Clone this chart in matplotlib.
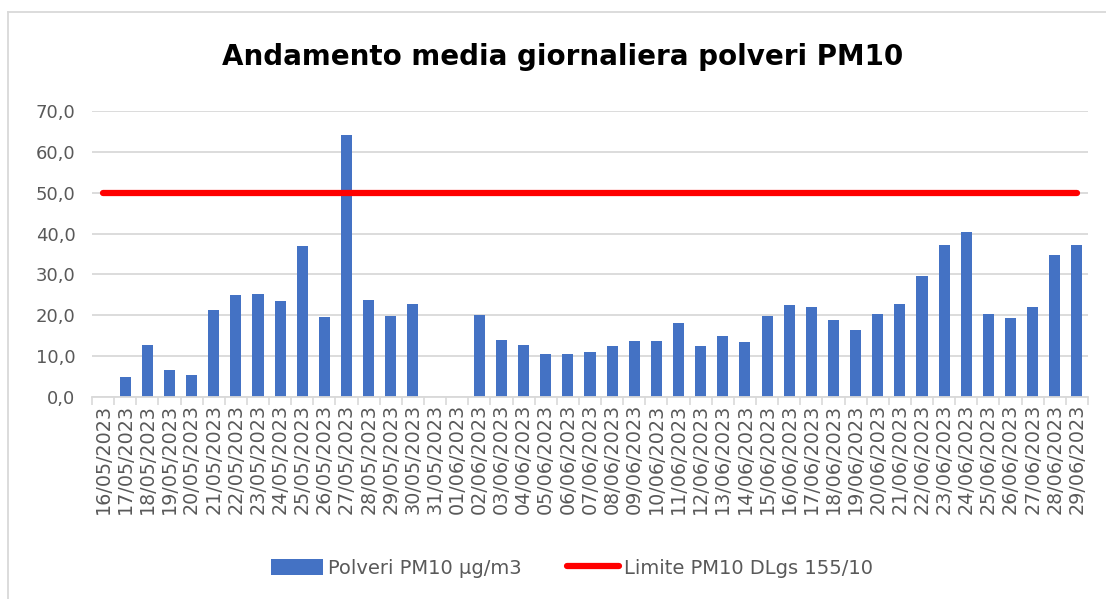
import numpy as np
import matplotlib
matplotlib.use("Agg")
import matplotlib.pyplot as plt
from matplotlib.lines import Line2D
from matplotlib.patches import Patch

dates = ["16/05/2023", "17/05/2023", "18/05/2023", "19/05/2023", "20/05/2023",
         "21/05/2023", "22/05/2023", "23/05/2023", "24/05/2023", "25/05/2023",
         "26/05/2023", "27/05/2023", "28/05/2023", "29/05/2023", "30/05/2023",
         "31/05/2023", "01/06/2023", "02/06/2023", "03/06/2023", "04/06/2023",
         "05/06/2023", "06/06/2023", "07/06/2023", "08/06/2023", "09/06/2023",
         "10/06/2023", "11/06/2023", "12/06/2023", "13/06/2023", "14/06/2023",
         "15/06/2023", "16/06/2023", "17/06/2023", "18/06/2023", "19/06/2023",
         "20/06/2023", "21/06/2023", "22/06/2023", "23/06/2023", "24/06/2023",
         "25/06/2023", "26/06/2023", "27/06/2023", "28/06/2023", "29/06/2023"]

pm10 = [np.nan, 4.8, 12.7, 6.7, 5.3,
        21.2, 25.0, 25.3, 23.5, 36.9,
        19.7, 64.1, 23.8, 19.9, 22.8,
        np.nan, np.nan, 20.0, 13.9, 12.7,
        10.6, 10.5, 10.9, 12.4, 13.8,
        13.8, 18.0, 12.6, 14.9, 13.5,
        19.8, 22.4, 22.0, 18.8, 16.3,
        20.2, 22.8, 29.6, 37.2, 40.5,
        20.4, 19.3, 22.0, 34.8, 37.2]

limit = [50.0] * len(dates)

title = "Andamento media giornaliera polveri PM10"
bar_label = "Polveri PM10 µg/m3"
line_label = "Limite PM10 DLgs 155/10"
yticks = [0, 10, 20, 30, 40, 50, 60, 70]

W, H = 1106, 599
fig = plt.figure(figsize=(W / 100, H / 100), dpi=100)
fig.patch.set_facecolor("white")

gray = "#595959"
grid = "#d9d9d9"

ax = fig.add_axes([92 / W, 1 - 397 / H, 996 / W, 286 / H])
x = np.arange(len(dates))
ax.bar(x, pm10, width=0.5, color="#4472c4", zorder=2)
ax.plot(x, limit, color="#ff0000", linewidth=4.5, solid_capstyle="round", zorder=3)

ax.set_xlim(-0.5, len(dates) - 0.5)
ax.set_ylim(0, 70)
ax.set_yticks(yticks)
ax.set_yticklabels([f"{v:.1f}".replace(".", ",") for v in yticks],
                   fontsize=13, color=gray)
ax.yaxis.grid(True, color=grid, linewidth=1.3, zorder=0)
ax.set_axisbelow(True)
ax.tick_params(axis="y", length=0, pad=12)

ax.set_xticks(x)
ax.set_xticklabels(dates, rotation=90, fontsize=13.8, color=gray)
ax.set_xticks(np.arange(-0.5, len(dates)), minor=True)
ax.tick_params(axis="x", which="major", length=0, pad=5)
ax.tick_params(axis="x", which="minor", length=6, color=grid, width=1.2)

for s in ["top", "right", "left"]:
    ax.spines[s].set_visible(False)
ax.spines["bottom"].set_color(grid)
ax.spines["bottom"].set_linewidth(1.3)

fig.text(563 / W, 1 - 57 / H, title, ha="center", va="center",
         fontsize=20, fontweight="bold", color="black")

handles = [Patch(facecolor="#4472c4", edgecolor="none"),
           Line2D([0], [0], color="#ff0000", linewidth=4.5, solid_capstyle="round")]
leg = fig.legend(handles, [bar_label, line_label], loc="center",
                 bbox_to_anchor=(572 / W, 1 - 568 / H), ncol=2, frameon=False,
                 fontsize=14, labelcolor=gray, handlelength=2.7, handleheight=0.85,
                 handletextpad=0.25, columnspacing=2.3)

# chart border (top and left edges visible)
fig.add_artist(Line2D([8 / W, 1.0], [1 - 12 / H, 1 - 12 / H], color=grid, linewidth=1.3))
fig.add_artist(Line2D([8 / W, 8 / W], [0.0, 1 - 12 / H], color=grid, linewidth=1.3))

fig.savefig("out.png", dpi=100, facecolor="white")
